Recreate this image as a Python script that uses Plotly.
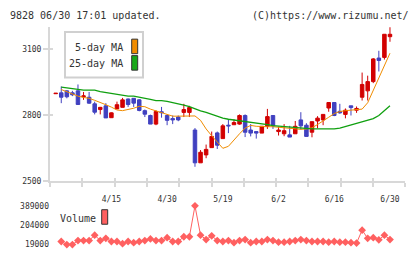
import plotly.graph_objects as go
import numpy as np

W, H = 420, 259
def px(x): return x / W
def py(y): return 1 - y / H

idx = list(range(61))
opens  = [2898,2902,2911,2902,2911,2884,2882,2852,2826,2843,2789,2829,2836,2874,2877,2870,2821,2799,2760,2816,
          2799,2785,2792,2813,2813,2733,2584,2620,2653,2720,2694,2755,2757,2760,2799,2733,2726,2719,2750,2799,
          2726,2716,2711,2716,2779,2755,2723,2774,2779,2833,2858,2818,2804,2843,2823,2882,2911,2953,3060,3063,3157]
highs  = [2900,2931,2914,2911,2940,2906,2906,2862,2838,2855,2813,2862,2879,2876,2877,2873,2826,2803,2823,2838,
          2804,2799,2799,2852,2843,2742,2642,2667,2726,2726,2760,2782,2782,2804,2804,2760,2726,2750,2829,2799,
          2748,2760,2752,2774,2814,2764,2771,2796,2804,2858,2858,2852,2831,2843,2840,2994,2980,3060,3093,3169,3205]
lows   = [2898,2855,2877,2887,2849,2870,2852,2804,2804,2788,2788,2829,2836,2838,2838,2818,2792,2760,2755,2789,
          2755,2760,2773,2792,2792,2566,2584,2605,2653,2647,2694,2719,2757,2757,2701,2704,2694,2719,2738,2738,
          2708,2705,2701,2716,2735,2704,2700,2741,2755,2816,2796,2807,2786,2799,2811,2867,2867,2946,2999,3053,3134]
closes = [2900,2882,2884,2893,2849,2888,2855,2814,2836,2788,2811,2848,2870,2849,2855,2822,2805,2760,2817,2812,
          2777,2779,2779,2826,2835,2584,2632,2645,2704,2664,2752,2752,2767,2799,2723,2719,2719,2750,2794,2752,
          2733,2730,2701,2750,2752,2704,2771,2787,2804,2858,2799,2811,2823,2835,2831,2940,2953,3056,3049,3168,3168]

ma_idx = list(range(1, 61))
ma5  = [2917,2906,2896,2887,2881,2877,2868,2859,2848,2837,2824,2821,2826,2832,2841,2839,2828,2820,2813,2804,
        2796,2796,2796,2796,2797,2777,2738,2707,2676,2650,2659,2689,2716,2742,2754,2750,2748,2748,2748,2745,
        2745,2742,2738,2736,2738,2743,2758,2773,2791,2808,2817,2821,2823,2823,2828,2857,2914,2967,3024,3082]
ma25 = [2928,2925,2921,2916,2914,2914,2914,2907,2903,2899,2894,2890,2887,2887,2883,2877,2872,2867,2867,2863,
        2858,2852,2846,2839,2829,2820,2813,2804,2796,2787,2782,2779,2775,2773,2770,2767,2764,2758,2753,2751,
        2747,2744,2742,2740,2738,2738,2738,2738,2738,2738,2742,2749,2755,2764,2772,2777,2785,2799,2819,2843]

volume = [48800,19000,19000,57800,57800,57800,109000,57800,78600,48800,48800,28000,48800,37000,48800,57800,
          73100,57800,57800,84900,48800,48800,93900,93900,389000,109000,66800,103000,57800,48800,57800,37000,
          57800,66800,37000,48800,48800,66800,57800,42500,42500,48800,57800,66800,57800,48800,48800,48800,
          42500,48800,42500,42500,37000,33400,157000,78600,84900,64100,109000,66800]

tick_idx = [10, 20, 30, 40, 50, 60]
tick_text = ["4/15", "4/30", "5/19", "6/2", "6/16", "6/30"]
price_ticks = [2500, 2800, 3100]
vol_ticks = [19000, 204000, 389000]

RED = "#d20000"
BLUE = "#4040c0"
ORANGE = "#f08c00"
GREEN = "#10a010"
VOLC = "#ff6060"
AXC = "#d8d8d8"
TXT = "#333333"
MONO = "DejaVu Sans Mono"

xr = [-1.02, 62.75]
grid_ticks = list(np.linspace(xr[0], xr[1], 12))

fig = go.Figure()
fig.add_trace(go.Candlestick(
    x=idx, open=opens, high=highs, low=lows, close=closes,
    increasing=dict(line=dict(color=RED, width=1), fillcolor=RED),
    decreasing=dict(line=dict(color=BLUE, width=1), fillcolor=BLUE),
    whiskerwidth=0, xaxis="x", yaxis="y", hoverinfo="skip"))
fig.add_trace(go.Scatter(x=ma_idx, y=ma5, mode="lines", line=dict(color=ORANGE, width=1),
                         xaxis="x", yaxis="y"))
fig.add_trace(go.Scatter(x=ma_idx, y=ma25, mode="lines", line=dict(color=GREEN, width=1.3),
                         xaxis="x", yaxis="y"))
fig.add_trace(go.Scatter(x=ma_idx, y=volume, mode="lines+markers",
                         line=dict(color=VOLC, width=1),
                         marker=dict(symbol="diamond", size=6, color=VOLC),
                         xaxis="x2", yaxis="y2", cliponaxis=False))
fig.add_trace(go.Scatter(x=[None], y=[None], xaxis="x3", yaxis="y", hoverinfo="skip"))
fig.add_trace(go.Scatter(x=[None], y=[None], xaxis="x", yaxis="y3", hoverinfo="skip"))

dom_x = [px(50), px(405.3)]
vtop, vbot = 208.5, 254
per_px = (389000 - 19000) / 40.0
vr = [19000 - (vbot - 249.3) * per_px, 389000 + (209.3 - vtop) * per_px]

fig.update_layout(
    width=W, height=H, margin=dict(l=0, r=0, t=0, b=0),
    paper_bgcolor="white", plot_bgcolor="white", showlegend=False, boxgap=0.1,
    font=dict(family=MONO, size=8, color=TXT),
    xaxis=dict(domain=dom_x, range=xr, anchor="y", tickvals=grid_ticks, showticklabels=False,
               ticks="outside", ticklen=4, tickcolor=AXC, tickwidth=1.5,
               showline=True, linecolor=AXC, linewidth=2, showgrid=False, zeroline=False,
               rangeslider=dict(visible=False), fixedrange=True),
    xaxis3=dict(domain=dom_x, range=xr, anchor="y", overlaying="x", tickvals=grid_ticks,
                showticklabels=False, ticks="inside", ticklen=3, tickcolor=AXC, tickwidth=1.5,
                showline=False, showgrid=False, zeroline=False),
    yaxis=dict(domain=[py(184), py(25)], range=[2500, 3200], anchor="x", tickvals=price_ticks,
               ticks="outside", ticklen=5, tickcolor=AXC, tickwidth=1.5,
               showline=True, linecolor=AXC, linewidth=2, showgrid=False, zeroline=False,
               tickfont=dict(family=MONO, size=8, color=TXT)),
    yaxis3=dict(domain=[py(184), py(25)], range=[2500, 3200], anchor="x", overlaying="y",
                tickvals=price_ticks, showticklabels=False, ticks="inside", ticklen=3,
                tickcolor=AXC, tickwidth=1.5, showline=False, showgrid=False, zeroline=False),
    xaxis2=dict(domain=dom_x, range=xr, anchor="y2", side="top", tickvals=tick_idx,
                ticktext=tick_text, ticks="", showline=False, showgrid=False, zeroline=False,
                tickfont=dict(family=MONO, size=8, color=TXT)),
    yaxis2=dict(domain=[py(vbot), py(vtop)], range=vr, anchor="x2",
                tickvals=vol_ticks, ticktext=[str(v) for v in vol_ticks], ticks="",
                showline=False, showgrid=False, zeroline=False,
                tickfont=dict(family=MONO, size=8, color=TXT)),
)

ann = [
    dict(text="9828 06/30 17:01 updated.", x=px(8), y=py(12.5), xanchor="left", yanchor="middle",
         font=dict(size=10)),
    dict(text="(C)https://www.rizumu.net/", x=px(410.5), y=py(12.5), xanchor="right", yanchor="middle",
         font=dict(size=10)),
    dict(text="5-day MA", x=px(125), y=py(46), xanchor="right", yanchor="middle", font=dict(size=10)),
    dict(text="25-day MA", x=px(125), y=py(62.8), xanchor="right", yanchor="middle", font=dict(size=10)),
    dict(text="Volume", x=px(58), y=py(222), xanchor="left", yanchor="middle", font=dict(size=10)),
]
for a in ann:
    a.update(xref="paper", yref="paper", showarrow=False)
    a["font"].update(family=MONO, color=TXT)
fig.update_layout(annotations=ann)

shapes = [
    dict(type="rect", x0=px(65), x1=px(143), y0=py(77), y1=py(30),
         line=dict(color="#d0d0d0", width=2), fillcolor="white", layer="below"),
    dict(type="rect", x0=px(131.7), x1=px(137.7), y0=py(52.3), y1=py(37.3),
         line=dict(color="#333333", width=1), fillcolor=ORANGE),
    dict(type="rect", x0=px(131.7), x1=px(137.7), y0=py(69.3), y1=py(54.3),
         line=dict(color="#333333", width=1), fillcolor="#18a818"),
    dict(type="rect", x0=px(101.7), x1=px(107.7), y0=py(228.3), y1=py(213.3),
         line=dict(color="#333333", width=1), fillcolor=VOLC),
]
for s in shapes:
    s.update(xref="paper", yref="paper")
fig.update_layout(shapes=shapes)

fig.write_html("out.html")
